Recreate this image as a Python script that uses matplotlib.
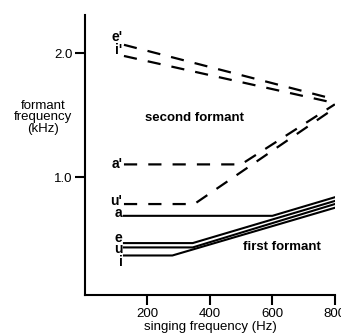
import matplotlib
matplotlib.use("Agg")
import matplotlib.pyplot as plt

plt.rcParams['font.family'] = ['Liberation Sans', 'DejaVu Sans']
plt.rcParams['lines.scale_dashes'] = False

# singing frequency (Hz) vs formant frequency (kHz)
# second formants (dashed)
e2_x = [125, 800]
e2_y = [2.07, 1.63]
i2_x = [125, 800]
i2_y = [1.98, 1.60]
a2_x = [125, 500, 800]
a2_y = [1.105, 1.105, 1.59]
u2_x = [125, 350, 800]
u2_y = [0.785, 0.785, 1.56]

# first formants (solid)
a1_x = [125, 600, 800]
a1_y = [0.69, 0.69, 0.84]
e1_x = [125, 345, 800]
e1_y = [0.47, 0.47, 0.81]
u1_x = [125, 345, 800]
u1_y = [0.435, 0.435, 0.785]
i1_x = [125, 280, 800]
i1_y = [0.37, 0.37, 0.755]

vowel_labels = ["e'", "i'", "a'", "u'", "a", "e", "u", "i"]
label_y = [2.13, 2.03, 1.11, 0.81, 0.71, 0.51, 0.42, 0.32]

fig = plt.figure(figsize=(3.41, 3.35), dpi=100)
ax = fig.add_axes([0.249, 0.119, 0.733, 0.836])

dash = (9.5, 8)
for xs, ys in [(e2_x, e2_y), (i2_x, i2_y), (a2_x, a2_y), (u2_x, u2_y)]:
    ax.plot(xs, ys, color='black', lw=1.6, dashes=dash, solid_joinstyle='miter')
for xs, ys in [(a1_x, a1_y), (e1_x, e1_y), (u1_x, u1_y), (i1_x, i1_y)]:
    ax.plot(xs, ys, color='black', lw=1.5)

for lab, y in zip(vowel_labels, label_y):
    ax.text(120, y, lab, ha='right', va='center', fontsize=10,
            fontweight='bold')

ax.text(350, 1.48, 'second formant', ha='center', va='center', fontsize=9.5,
        fontweight='bold')
ax.text(630, 0.44, 'first formant', ha='center', va='center', fontsize=9.5,
        fontweight='bold')

ax.set_xlim(0, 800)
ax.set_ylim(0.05, 2.31)
ax.set_xticks([200, 400, 600, 800])
ax.set_yticks([1.0, 2.0])
ax.set_yticklabels(['1.0', '2.0'])

for s in ['top', 'right']:
    ax.spines[s].set_visible(False)
for s in ['left', 'bottom']:
    ax.spines[s].set_linewidth(1.5)
ax.tick_params(direction='out', length=7, width=1.5, labelsize=9.5, pad=2)

ax.set_xlabel('singing frequency (Hz)', fontsize=9.5, labelpad=1)
fig.text(0.127, 0.65, 'formant\nfrequency\n(kHz)', ha='center', va='center',
         fontsize=9.5, linespacing=0.95)

fig.savefig('out.png', dpi=100)
